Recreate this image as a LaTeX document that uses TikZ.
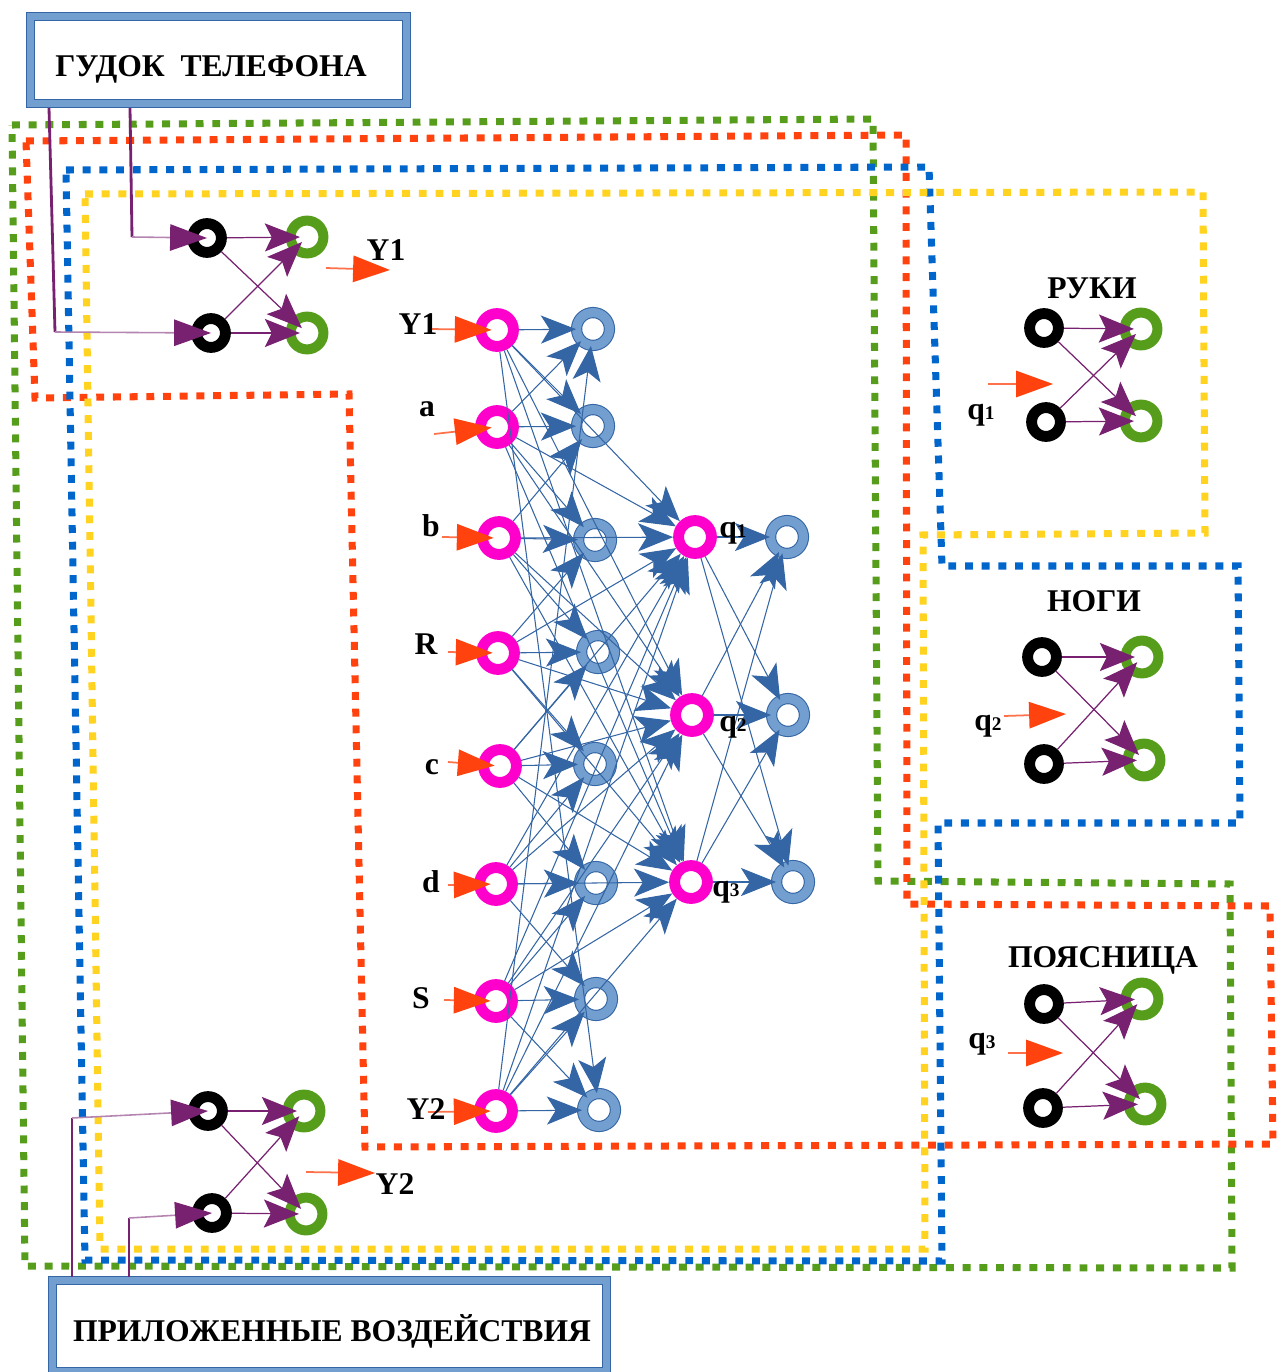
\documentclass[tikz,border=0pt]{standalone}
\usepackage{fontspec}
\setmainfont{Liberation Serif}
\usepackage{tikz}
\usetikzlibrary{arrows.meta}

\definecolor{zgreen}{HTML}{579D1C}
\definecolor{zred}{HTML}{FF420E}
\definecolor{zblue}{HTML}{0066CC}
\definecolor{zyellow}{HTML}{FFD320}
\definecolor{boxblue}{HTML}{729FCF}
\definecolor{edgeblue}{HTML}{3465A4}
\definecolor{wirepurple}{HTML}{772170}
\definecolor{neuron}{HTML}{FF00CC}

\newcommand{\qsub}[1]{q{\fontsize{11}{11}\selectfont#1}}

\tikzset{zone/.style={draw=#1,line width=4pt,dash pattern=on 4.5pt off 5pt},
  inp/.style={circle,draw=neuron,line width=6.2pt,minimum size=18.7pt,inner sep=0pt},
  hid/.style={circle,draw=edgeblue,line width=.6pt,double=boxblue,double distance=5.2pt,minimum size=18.7pt,inner sep=0pt},
  blk/.style={circle,draw=black,line width=6.2pt,minimum size=16.4pt,inner sep=0pt},
  grn/.style={circle,draw=zgreen,line width=5.7pt,minimum size=18.7pt,inner sep=0pt},
  lab/.style={font=\fontsize{18}{20}\selectfont\bfseries,anchor=base,inner sep=0pt},
  tagbox/.style={draw=edgeblue,line width=.5pt,double=boxblue,double distance=4.2pt,fill=white,inner sep=0pt},
  net/.style={draw=edgeblue,line width=.6pt,-{Stealth[length=20pt,width=16pt,inset=5pt]}},
  wire/.style={draw=wirepurple,line width=.7pt,-{Stealth[length=20pt,width=16pt,inset=4pt]},shorten >=4pt},
  lead/.style={draw=wirepurple,line width=1.6pt},
  feed/.style={draw=wirepurple!55,line width=.9pt,-{Triangle[length=21pt,width=15pt,color=wirepurple]}},
  redarr/.style={draw=zred!75,line width=1pt,-{Triangle[length=21pt,width=15pt,color=zred]}}}

\begin{document}
\begin{tikzpicture}[x=0.02cm,y=-0.02cm]
    \useasboundingbox (0,0) rectangle (1277,1372);

    % nested zones
    \draw[zone=zgreen] (12,125) -- (873,119) -- (878,881) -- (1230,884) -- (1232,1268) -- (25,1266) -- cycle;
    \draw[zone=zred] (26,141) -- (906,135) -- (907,904) -- (1270,906) -- (1273,1144) -- (365,1147) -- (349,394) -- (35,398) -- cycle;
    \draw[zone=zblue] (66,170) -- (929,167) -- (942,566) -- (1238,566) -- (1240,823) -- (938,823) -- (942,1261) -- (85,1260) -- cycle;
    \draw[zone=zyellow] (85,194) -- (1203,192) -- (1205,533) -- (923,535) -- (925,1249) -- (100,1249) -- cycle;

    % source boxes
    \node[tagbox,minimum width=7.52cm,minimum height=1.74cm] (horn) at (218.5,60) {};
    \node[lab] (hornt) at (211,77) {ГУДОК\ \ ТЕЛЕФОНА};
    \node[tagbox,minimum width=11.08cm,minimum height=1.82cm] (load) at (329.5,1326) {};
    \node[lab] (loadt) at (332,1341) {ПРИЛОЖЕННЫЕ ВОЗДЕЙСТВИЯ};

    % small 2x2 nets
    \node[blk] (tb1) at (207,238) {};
    \node[blk] (tb2) at (211,333) {};
    \node[grn] (tg1) at (307,237) {};
    \node[grn] (tg2) at (307,333) {};

    \node[blk] (lb1) at (208,1111) {};
    \node[blk] (lb2) at (212,1213) {};
    \node[grn] (lg1) at (304,1111) {};
    \node[grn] (lg2) at (306,1214) {};

    \node[blk] (hb1) at (1044,328) {};
    \node[blk] (hb2) at (1046,422) {};
    \node[grn] (hg1) at (1141,329) {};
    \node[grn] (hg2) at (1141,421) {};

    \node[blk] (nb1) at (1042,657) {};
    \node[blk] (nb2) at (1044,764) {};
    \node[grn] (ng1) at (1142,657) {};
    \node[grn] (ng2) at (1144,760) {};

    \node[blk] (pb1) at (1044,1004) {};
    \node[blk] (pb2) at (1043,1108) {};
    \node[grn] (pg1) at (1142,999) {};
    \node[grn] (pg2) at (1145,1104) {};

    \foreach \g in {t,l,h,n,p} {
        \draw[wire] (\g b1) to (\g g1.center);
        \draw[wire] (\g b1) to (\g g2.center);
        \draw[wire] (\g b2) to (\g g1.center);
        \draw[wire] (\g b2) to (\g g2.center);
    }

    % leads from the boxes
    \coordinate (h1) at (130,108);
    \coordinate (h1k) at (132,237);
    \coordinate (h2) at (49,108);
    \coordinate (h2k) at (55,332);
    \coordinate (v1) at (72,1277);
    \coordinate (v1k) at (72,1118);
    \coordinate (v2) at (129,1277);
    \coordinate (v2k) at (129,1218);
    \draw[lead] (h1) -- (h1k);
    \draw[lead] (h2) -- (h2k);
    \draw[lead] (v1) -- (v1k);
    \draw[lead] (v2) -- (v2k);
    \draw[feed] (h1k) -- (tb1.center);
    \draw[feed] (h2k) -- (tb2.center);
    \draw[feed] (v1k) -- (lb1.center);
    \draw[feed] (v2k) -- (lb2.center);

    % outputs of the small nets
    \coordinate (ty1s) at (326,268);
    \coordinate (ty1e) at (390,270);
    \coordinate (ly2s) at (306,1172);
    \coordinate (ly2e) at (375,1173);
    \coordinate (hqs) at (988,384);
    \coordinate (hqe) at (1053,384);
    \coordinate (nqs) at (1004,716);
    \coordinate (nqe) at (1066,714);
    \coordinate (pqs) at (1008,1053);
    \coordinate (pqe) at (1063,1053);
    \draw[redarr] (ty1s) -- (ty1e);
    \draw[redarr] (ly2s) -- (ly2e);
    \draw[redarr] (hqs) -- (hqe);
    \draw[redarr] (nqs) -- (nqe);
    \draw[redarr] (pqs) -- (pqe);

    \node[lab] (ty1) at (386,260) {Y1};
    \node[lab] (ly2) at (395,1194) {Y2};
    \node[lab] (hands) at (1092,298) {РУКИ};
    \node[lab] (legs) at (1094,611) {НОГИ};
    \node[lab] (back) at (1103,967) {ПОЯСНИЦА};
    \node[lab,anchor=base west] (hq) at (967,419) {\qsub1};
    \node[lab,anchor=base west] (nq) at (974,730) {\qsub2};
    \node[lab,anchor=base west] (pq) at (968,1048) {\qsub3};

    % main net
    \node[inp] (in1) at (497,330) {};
    \node[inp] (in2) at (497,427) {};
    \node[inp] (in3) at (499,538) {};
    \node[inp] (in4) at (498,653) {};
    \node[inp] (in5) at (500,766) {};
    \node[inp] (in6) at (496,884) {};
    \node[inp] (in7) at (496,1001) {};
    \node[inp] (in8) at (496,1111) {};

    \node[hid] (hd1) at (593,329) {};
    \node[hid] (hd2) at (593,426) {};
    \node[hid] (hd3) at (595,540) {};
    \node[hid] (hd4) at (598,652) {};
    \node[hid] (hd5) at (595,764) {};
    \node[hid] (hd6) at (596,883) {};
    \node[hid] (hd7) at (596,999) {};
    \node[hid] (hd8) at (599,1110) {};

    \node[inp] (q1) at (695,537) {};
    \node[inp] (q2) at (692,715) {};
    \node[inp] (q3) at (691,882) {};

    \node[hid] (out1) at (787,537) {};
    \node[hid] (out2) at (788,715) {};
    \node[hid] (out3) at (793,882) {};

    \foreach \i in {1,...,8}
        \draw[net] (in\i) to (hd\i);
    \foreach \i [count=\j from 2] in {1,...,7} {
        \draw[net] (in\i) to (hd\j);
        \draw[net] (in\j) to (hd\i);
    }
    \draw[net] (in8) to (hd1);
    \draw[net] (in1) to (hd8);
    \foreach \i in {1,...,8}
        \foreach \k in {1,2,3}
            \draw[net] (in\i) to (q\k);
    \foreach \k in {1,2,3}
        \foreach \m in {1,2,3}
            \draw[net] (q\k) to (out\m);

    % input feeds
    \coordinate (f1) at (430,329);
    \coordinate (f2) at (434,434);
    \coordinate (f3) at (442,537);
    \coordinate (f4) at (448,652);
    \coordinate (f5) at (448,762);
    \coordinate (f6) at (448,885);
    \coordinate (f7) at (444,1000);
    \coordinate (f8) at (428,1112);
    \foreach \i in {1,...,8}
        \draw[redarr,shorten >=3pt] (f\i) -- (in\i.center);

    \node[lab] (ny1) at (418,334) {Y1};
    \node[lab] (na) at (427,416) {a};
    \node[lab] (nb) at (431,536) {b};
    \node[lab] (nr) at (426,654) {R};
    \node[lab] (nc) at (432,774) {c};
    \node[lab] (nd) at (431,892) {d};
    \node[lab] (ns) at (421,1008) {S};
    \node[lab] (ny2) at (426,1119) {Y2};

    \node[lab,anchor=base west] (qa) at (719,537) {\qsub1};
    \node[lab,anchor=base west] (qb) at (719,731) {\qsub2};
    \node[lab,anchor=base west] (qc) at (712,896) {\qsub3};
\end{tikzpicture}
\end{document}
